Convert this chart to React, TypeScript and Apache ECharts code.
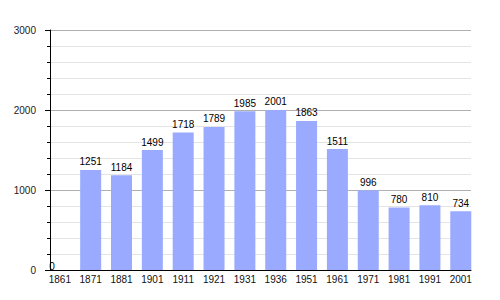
import React, { useEffect, useRef } from "react";
import * as echarts from "echarts";

const years = ["1861", "1871", "1881", "1901", "1911", "1921", "1931", "1936", "1951", "1961", "1971", "1981", "1991", "2001"];
const population = [0, 1251, 1184, 1499, 1718, 1789, 1985, 2001, 1863, 1511, 996, 780, 810, 734];
const yMin = 0;
const yMax = 3000;
const yStep = 1000;

export default function App() {
  const ref = useRef<HTMLDivElement>(null);
  useEffect(() => {
    if (!ref.current) return;
    const chart = echarts.init(ref.current, undefined, { renderer: "svg" });
    const font = "'Liberation Sans', Arial, sans-serif";
    const barData = population.map((v) =>
      v === 0 ? { value: v, label: { position: [0, -9] } } : v
    );
    chart.setOption({
      animation: false,
      backgroundColor: "#ffffff",
      grid: [
        { left: 44.4, right: 23.8, top: 30, bottom: 30 },
        { left: 50, right: 29, top: 30, bottom: 30 },
      ],
      xAxis: [
        {
          type: "category",
          gridIndex: 0,
          data: years,
          axisLine: { show: false },
          axisTick: { show: false },
          axisLabel: { color: "#111", fontSize: 10, fontFamily: font, margin: 4, interval: 0 },
        },
        {
          type: "value",
          gridIndex: 1,
          min: 0,
          max: 1,
          z: 5,
          axisLine: { show: true, onZero: false, lineStyle: { color: "#000", width: 1 } },
          axisTick: { show: false },
          axisLabel: { show: false },
          splitLine: { show: false },
        },
      ],
      yAxis: [
        {
          type: "value",
          gridIndex: 0,
          min: yMin,
          max: yMax,
          show: false,
          splitLine: { show: false },
        },
        {
          type: "value",
          gridIndex: 1,
          min: yMin,
          max: yMax,
          interval: yStep,
          axisLine: { show: true, lineStyle: { color: "#000", width: 1 } },
          axisTick: { show: true, length: 5, lineStyle: { color: "#000" } },
          minorTick: { show: true, splitNumber: 5, length: 3, lineStyle: { color: "#000" } },
          axisLabel: {
            color: "#222",
            fontSize: 10,
            fontFamily: font,
            margin: 14,
            formatter: (v: number) => String(v),
          },
          splitLine: { show: true, lineStyle: { color: "#b0b0b0", width: 1 } },
          minorSplitLine: { show: true, lineStyle: { color: "#e4e4e4", width: 1 } },
        },
      ],
      series: [
        {
          type: "bar",
          xAxisIndex: 0,
          yAxisIndex: 0,
          data: barData,
          barWidth: 21,
          itemStyle: { color: "#99aaff" },
          label: {
            show: true,
            position: "top",
            distance: 3,
            color: "#000",
            fontSize: 10,
            fontFamily: font,
          },
        },
      ],
    });
    return () => chart.dispose();
  }, []);
  return (
    <div
      ref={ref}
      style={{ position: "fixed", left: 0, top: 0, width: 500, height: 300, background: "#fff" }}
    />
  );
}
